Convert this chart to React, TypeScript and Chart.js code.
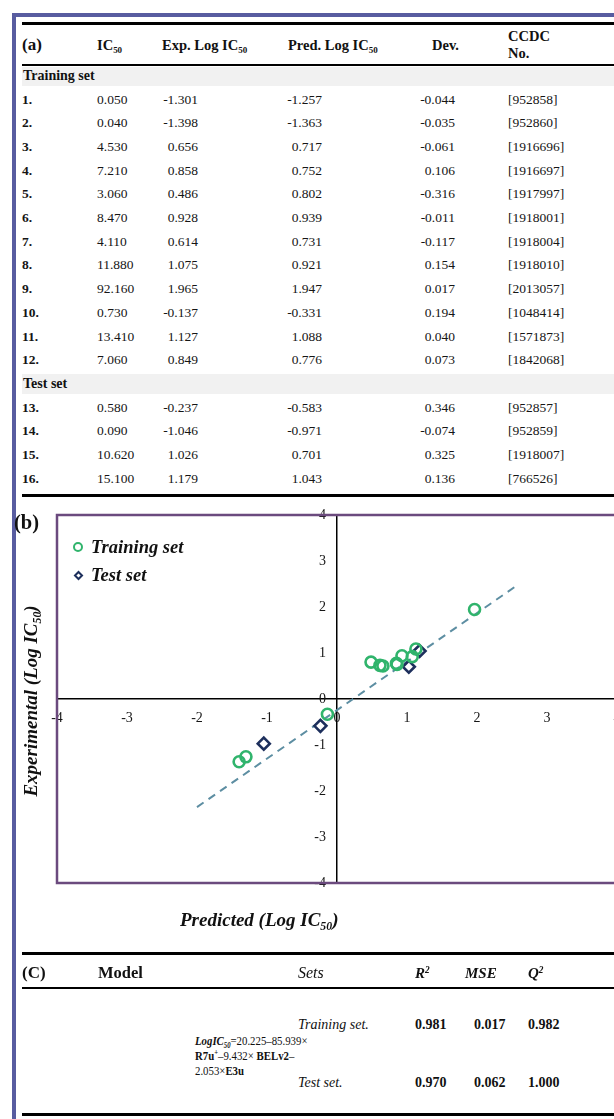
import React, { useEffect, useRef } from "react";
import { Chart, registerables } from "chart.js";

Chart.register(...registerables);

const SERIF = '"Liberation Serif", "Times New Roman", serif';

// ---------- data ----------
const compoundIds = ["1.", "2.", "3.", "4.", "5.", "6.", "7.", "8.", "9.", "10.", "11.", "12.", "13.", "14.", "15.", "16."];
const ic50Values = [0.05, 0.04, 4.53, 7.21, 3.06, 8.47, 4.11, 11.88, 92.16, 0.73, 13.41, 7.06, 0.58, 0.09, 10.62, 15.1];
const expLogValues = [-1.301, -1.398, 0.656, 0.858, 0.486, 0.928, 0.614, 1.075, 1.965, -0.137, 1.127, 0.849, -0.237, -1.046, 1.026, 1.179];
const predLogValues = [-1.257, -1.363, 0.717, 0.752, 0.802, 0.939, 0.731, 0.921, 1.947, -0.331, 1.088, 0.776, -0.583, -0.971, 0.701, 1.043];
const devValues = [-0.044, -0.035, -0.061, 0.106, -0.316, -0.011, -0.117, 0.154, 0.017, 0.194, 0.04, 0.073, 0.346, -0.074, 0.325, 0.136];
const ccdcNumbers = ["952858", "952860", "1916696", "1916697", "1917997", "1918001", "1918004", "1918010", "2013057", "1048414", "1571873", "1842068", "952857", "952859", "1918007", "766526"];
const trainingCount = 12;

const trendLineX = [-2.0, 2.6];
const trendLineY = [-2.35, 2.5];
const axisMin = -4;
const axisMax = 4;

const statSets = ["Training set.", "Test set."];
const r2Values = [0.981, 0.97];
const mseValues = [0.017, 0.062];
const q2Values = [0.982, 1.0];

// ---------- styles ----------
const GREEN = "#30b46c";
const NAVY = "#1d2f5c";
const TREND = "#5d8ea2";
const PLOT_BORDER = "#6b4a7e";

const fmt = (v: number) => v.toFixed(3);

const abs = (x: number, yc: number, h = 16): React.CSSProperties => ({
  position: "absolute",
  left: x,
  top: yc - h / 2,
  lineHeight: h + "px",
  whiteSpace: "nowrap",
});
const absR = (xr: number, yc: number, h = 16): React.CSSProperties => ({
  position: "absolute",
  left: xr - 120,
  width: 120,
  textAlign: "right",
  top: yc - h / 2,
  lineHeight: h + "px",
  whiteSpace: "nowrap",
});

const Sub = ({ children }: { children: React.ReactNode }) => (
  <span style={{ fontSize: "0.62em", verticalAlign: "-0.3em", lineHeight: 0 }}>{children}</span>
);
const Sup = ({ children }: { children: React.ReactNode }) => (
  <span style={{ fontSize: "0.62em", verticalAlign: "0.55em", lineHeight: 0 }}>{children}</span>
);

// table (a) geometry
const A_COL = { id: 22, ic: 97, expR: 198, expH: 162, predR: 322, predH: 288, devR: 455, devH: 432, ccdc: 508 };
const ROW0 = 99.5;
const ROWH = 23.7;

const plotBorderPlugin = {
  id: "plotBorder",
  beforeDatasetsDraw(chart: any) {
    const { ctx, chartArea } = chart;
    ctx.save();
    ctx.strokeStyle = PLOT_BORDER;
    ctx.lineWidth = 2.5;
    ctx.strokeRect(chartArea.left, chartArea.top, chartArea.right - chartArea.left, chartArea.bottom - chartArea.top);
    ctx.restore();
  },
};

// Chart.js draws labels of an axis placed at a value flush against the line; move them left a little.
const yLabelShiftPlugin = {
  id: "yLabelShift",
  beforeDraw(chart: any) {
    const s = chart.scales.y;
    if (!s || typeof s.getLabelItems !== "function") return;
    const items = s.getLabelItems();
    items.forEach((it: any) => {
      if (it._shifted) return;
      const t = it.options.translation;
      it.options.translation = [t[0] - 11, t[1]];
      it._shifted = true;
    });
  },
};

function ScatterChart() {
  const ref = useRef<HTMLCanvasElement>(null);
  useEffect(() => {
    const canvas = ref.current!;
    const train = expLogValues.slice(0, trainingCount).map((x, i) => ({ x, y: predLogValues[i] }));
    const test = expLogValues.slice(trainingCount).map((x, i) => ({ x, y: predLogValues[trainingCount + i] }));
    const trend = trendLineX.map((x, i) => ({ x, y: trendLineY[i] }));
    const tickFont = { family: SERIF, size: 14 };
    const chart = new Chart(canvas, {
      type: "scatter",
      data: {
        datasets: [
          {
            label: "Training set",
            data: train,
            pointStyle: "circle",
            pointRadius: 5.5,
            pointBorderWidth: 2.6,
            borderWidth: 2.6,
            borderColor: GREEN,
            pointBorderColor: GREEN,
            backgroundColor: "rgba(255,255,255,0)",
            pointBackgroundColor: "rgba(255,255,255,0)",
          },
          {
            label: "Test set",
            data: test,
            pointStyle: "rectRot",
            pointRadius: 6,
            pointBorderWidth: 2.6,
            borderWidth: 2.6,
            borderColor: NAVY,
            pointBorderColor: NAVY,
            backgroundColor: "#ffffff",
            pointBackgroundColor: "#ffffff",
          },
          {
            label: "Trend",
            data: trend,
            showLine: true,
            borderDash: [8, 6],
            borderColor: TREND,
            borderWidth: 2,
            pointRadius: 0,
          },
        ],
      } as any,
      options: {
        responsive: false,
        animation: false,
        events: [],
        layout: { padding: { left: 57, top: 20, right: 23, bottom: 32 } },
        plugins: { legend: { display: false }, tooltip: { enabled: false } },
        scales: {
          x: {
            type: "linear",
            min: axisMin,
            max: axisMax,
            position: { y: 0 } as any,
            afterFit: (s: any) => {
              s.height = 0;
            },
            ticks: { stepSize: 1, font: tickFont, color: "#151515", padding: 11, maxRotation: 0, autoSkip: false },
            grid: { drawOnChartArea: false, drawTicks: false },
            border: { display: true, color: "#000", width: 1.5 },
          },
          y: {
            type: "linear",
            min: axisMin,
            max: axisMax,
            position: { x: 0 } as any,
            afterFit: (s: any) => {
              s.width = 0;
            },
            ticks: { stepSize: 1, font: tickFont, color: "#151515", padding: 0, autoSkip: false },
            grid: { drawOnChartArea: false, drawTicks: false },
            border: { display: true, color: "#000", width: 1.5 },
          },
        },
      } as any,
      plugins: [plotBorderPlugin, yLabelShiftPlugin],
    });
    return () => chart.destroy();
  }, []);
  return <canvas ref={ref} width={640} height={420} style={{ position: "absolute", left: 0, top: 495 }} />;
}

export default function App() {
  useEffect(() => {
    document.body.style.margin = "0";
  }, []);

  const fontA: React.CSSProperties = { fontSize: 13.5, color: "#151515" };
  const rowY = (k: number) => ROW0 + k * ROWH;

  const rows: React.ReactNode[] = [];
  let k = 0;
  compoundIds.forEach((id, i) => {
    if (i === trainingCount) {
      const yc = rowY(k);
      rows.push(
        <div key="testband" style={{ position: "absolute", left: 22, right: 0, top: yc - 10, height: 20, background: "#f1f1f1" }} />
      );
      rows.push(
        <div key="testlbl" style={{ ...abs(23, yc), fontWeight: "bold", fontSize: 14 }}>
          Test set
        </div>
      );
      k++;
    }
    const yc = rowY(k);
    rows.push(
      <div key={"r" + i} style={fontA}>
        <div style={{ ...abs(A_COL.id, yc), fontWeight: "bold" }}>{id}</div>
        <div style={abs(A_COL.ic, yc)}>{fmt(ic50Values[i])}</div>
        <div style={absR(A_COL.expR, yc)}>{fmt(expLogValues[i])}</div>
        <div style={absR(A_COL.predR, yc)}>{fmt(predLogValues[i])}</div>
        <div style={absR(A_COL.devR, yc)}>{fmt(devValues[i])}</div>
        <div style={abs(A_COL.ccdc, yc)}>[{ccdcNumbers[i]}]</div>
      </div>
    );
    k++;
  });
  const tableBottom = rowY(k) - ROWH / 2 + 3;

  const hdr: React.CSSProperties = { fontWeight: "bold", fontSize: 14.5 };
  const titleFont: React.CSSProperties = { fontSize: 19, fontWeight: "bold", fontStyle: "italic" };

  return (
    <div
      style={{
        position: "fixed",
        left: 0,
        top: 0,
        width: 614,
        height: 1119,
        overflow: "hidden",
        background: "#fff",
        fontFamily: SERIF,
        color: "#111",
      }}
    >
      {/* outer blue frame */}
      <div style={{ position: "absolute", left: 12, top: 13, width: 800, height: 1300, border: "4px solid #585ca0", boxSizing: "border-box" }} />

      {/* ---------- table (a) ---------- */}
      <div style={{ position: "absolute", left: 22, right: 0, top: 22, height: 3, background: "#000" }} />
      <div style={hdr}>
        <div style={{ ...abs(A_COL.id, 45, 20), fontSize: 17 }}>(a)</div>
        <div style={abs(A_COL.ic, 45)}>
          IC<Sub>50</Sub>
        </div>
        <div style={abs(A_COL.expH, 45)}>
          Exp. Log IC<Sub>50</Sub>
        </div>
        <div style={abs(A_COL.predH, 45)}>
          Pred. Log IC<Sub>50</Sub>
        </div>
        <div style={abs(A_COL.devH, 45)}>Dev.</div>
        <div style={abs(A_COL.ccdc, 36)}>CCDC</div>
        <div style={abs(A_COL.ccdc, 53)}>No.</div>
      </div>
      <div style={{ position: "absolute", left: 22, right: 0, top: 64, height: 1.5, background: "#000" }} />
      <div style={{ position: "absolute", left: 22, right: 0, top: 67, height: 19, background: "#f1f1f1" }} />
      <div style={{ ...abs(23, 76), fontWeight: "bold", fontSize: 14 }}>Training set</div>
      {rows}
      <div style={{ position: "absolute", left: 22, right: 0, top: tableBottom, height: 3, background: "#000" }} />

      {/* ---------- chart (b) ---------- */}
      <ScatterChart />
      <div style={{ ...abs(14, 522, 22), fontWeight: "bold", fontSize: 20.5 }}>(b)</div>
      {/* legend */}
      <div
        style={{
          position: "absolute",
          left: 73,
          top: 542,
          width: 10,
          height: 10,
          borderRadius: "50%",
          border: `2.5px solid ${GREEN}`,
          boxSizing: "border-box",
        }}
      />
      <div style={{ ...abs(91, 547, 20), ...titleFont, fontSize: 18.5 }}>Training set</div>
      <div
        style={{
          position: "absolute",
          left: 74.5,
          top: 571.5,
          width: 7,
          height: 7,
          border: `2.5px solid ${NAVY}`,
          boxSizing: "border-box",
          transform: "rotate(45deg)",
          background: "#fff",
        }}
      />
      <div style={{ ...abs(91, 575, 20), ...titleFont, fontSize: 18.5 }}>Test set</div>
      {/* axis titles */}
      <div
        style={{
          position: "absolute",
          left: 31,
          top: 701,
          transform: "translate(-50%, -50%) rotate(-90deg)",
          whiteSpace: "nowrap",
          lineHeight: "22px",
          ...titleFont,
        }}
      >
        Experimental (Log IC<Sub>50</Sub>)
      </div>
      <div style={{ ...abs(180, 920, 22), ...titleFont }}>
        Predicted (Log IC<Sub>50</Sub>)
      </div>

      {/* ---------- table (C) ---------- */}
      <div style={{ position: "absolute", left: 22, right: 0, top: 952, height: 3, background: "#000" }} />
      <div style={{ fontSize: 15 }}>
        <div style={{ ...abs(22, 973, 20), fontWeight: "bold", fontSize: 17 }}>(C)</div>
        <div style={{ ...abs(98, 973, 20), fontWeight: "bold", fontSize: 16.5 }}>Model</div>
        <div style={{ ...abs(298, 973, 20), fontStyle: "italic", fontSize: 16 }}>Sets</div>
        <div style={{ ...abs(415, 973), fontStyle: "italic", fontWeight: "bold" }}>
          R<Sup>2</Sup>
        </div>
        <div style={{ ...abs(465, 973), fontStyle: "italic", fontWeight: "bold" }}>MSE</div>
        <div style={{ ...abs(528, 973), fontStyle: "italic", fontWeight: "bold" }}>
          Q<Sup>2</Sup>
        </div>
      </div>
      <div style={{ position: "absolute", left: 22, right: 0, top: 987, height: 1.5, background: "#000" }} />
      {statSets.map((s, i) => {
        const yc = i === 0 ? 1025 : 1083;
        return (
          <div key={s} style={{ fontSize: 14 }}>
            <div style={{ ...abs(298, yc), fontStyle: "italic" }}>{s}</div>
            <div style={{ ...abs(415, yc), fontWeight: "bold" }}>{fmt(r2Values[i])}</div>
            <div style={{ ...abs(474, yc), fontWeight: "bold" }}>{fmt(mseValues[i])}</div>
            <div style={{ ...abs(528, yc), fontWeight: "bold" }}>{fmt(q2Values[i])}</div>
          </div>
        );
      })}
      <div style={{ fontSize: 13.5, position: "absolute", left: 195, top: 0, transform: "scaleX(0.8)", transformOrigin: "0 0" }}>
        <div style={abs(0, 1041)}>
          <b>
            <i>
              LogIC<Sub>50</Sub>
            </i>
          </b>
          =20.225–85.939×
        </div>
        <div style={abs(0, 1056)}>
          <b>
            R7u<Sup>+</Sup>
          </b>
          –9.432× <b>BELv2</b>–
        </div>
        <div style={abs(0, 1071)}>
          2.053×<b>E3u</b>
        </div>
      </div>
      <div style={{ position: "absolute", left: 22, right: 0, top: 1113, height: 3, background: "#000" }} />
    </div>
  );
}
